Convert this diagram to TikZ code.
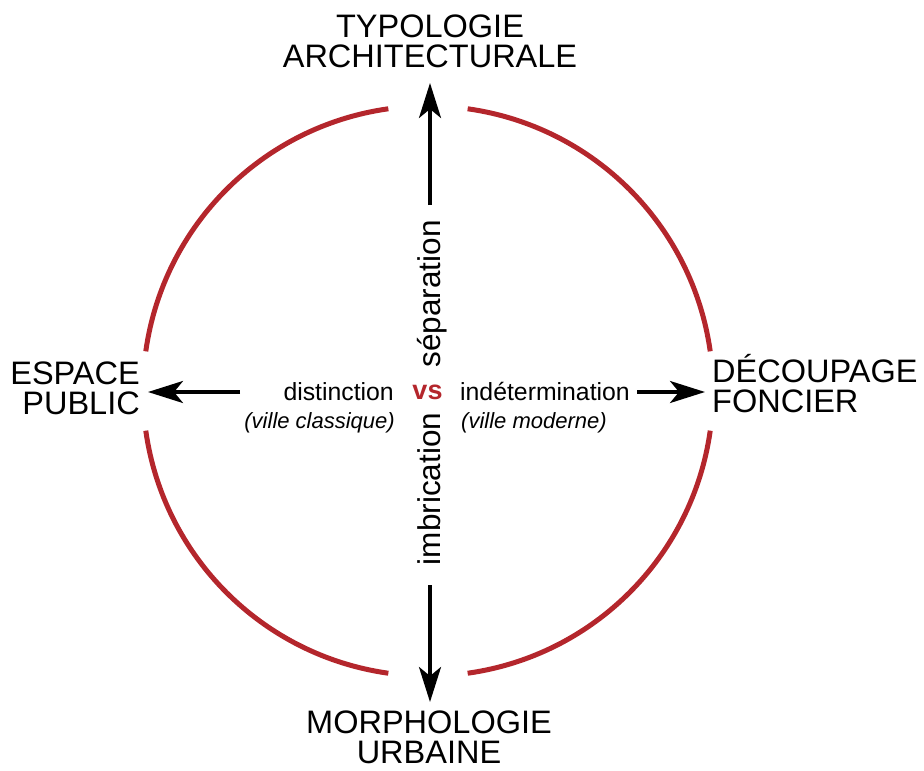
\documentclass[tikz,border=0pt]{standalone}
\usepackage{fontspec}
\setmainfont{Liberation Sans}
\usetikzlibrary{arrows.meta}
\definecolor{ringred}{RGB}{180,38,44}
\begin{document}
\begin{tikzpicture}[x=1pt,y=1pt,
  big/.style={inner sep=0pt,font=\fontsize{32.5}{30}\selectfont},
  mid/.style={inner sep=0pt,font=\fontsize{24.8}{28}\selectfont},
  sub/.style={inner sep=0pt,font=\fontsize{22}{24}\selectfont\itshape},
  rot/.style={inner sep=0pt,rotate=90,font=\fontsize{31.5}{34}\selectfont},
  arr/.style={line width=3.5pt,-{Stealth[length=35pt,width=22pt,inset=9pt]}},
  ring/.style={draw=ringred,line width=5pt}]
\useasboundingbox (0,0) rectangle (924,-771);
% ring
\coordinate (c) at (428,-391);
\draw[ring] ([shift={(8:285)}]c) arc (8:82:285);
\draw[ring] ([shift={(98:285)}]c) arc (98:172:285);
\draw[ring] ([shift={(188:285)}]c) arc (188:262:285);
\draw[ring] ([shift={(278:285)}]c) arc (278:352:285);
% outer labels
\node[big,align=center,anchor=south] (typo) at (430,-68) {TYPOLOGIE\\ARCHITECTURALE};
\node[big,align=center,anchor=south] (morph) at (429,-764) {MORPHOLOGIE\\URBAINE};
\node[big,align=right,anchor=south east] (esp) at (140,-415) {ESPACE\\PUBLIC};
\node[big,align=left,anchor=south west] (dec) at (712,-413) {DÉCOUPAGE\\FONCIER};
% centre labels
\node[inner sep=0pt,font=\fontsize{27}{30}\selectfont\bfseries,text=ringred,anchor=base] (vs) at (427.5,-399) {vs};
\node[rot,anchor=base] (sep) at (440,-294) {séparation};
\node[rot,anchor=base] (imb) at (440,-489) {imbrication};
\node[mid,anchor=base east] (dist) at (394,-400) {distinction};
\node[sub,anchor=base east] (distsub) at (395,-428) {(ville classique)};
\node[mid,anchor=base west] (indet) at (460,-400) {indétermination};
\node[sub,anchor=base west] (indetsub) at (461,-428) {(ville moderne)};
% arrow ends
\coordinate (sepend) at (430,-205);
\coordinate (typoend) at (430,-83);
\coordinate (imbend) at (430,-585);
\coordinate (morphend) at (430,-702);
\coordinate (distend) at (240,-392);
\coordinate (espend) at (148,-392);
\coordinate (indetend) at (637,-392);
\coordinate (decend) at (705,-392);
\draw[arr] (sepend) -- (typoend);
\draw[arr] (imbend) -- (morphend);
\draw[arr] (distend) -- (espend);
\draw[arr] (indetend) -- (decend);
\end{tikzpicture}
\end{document}
